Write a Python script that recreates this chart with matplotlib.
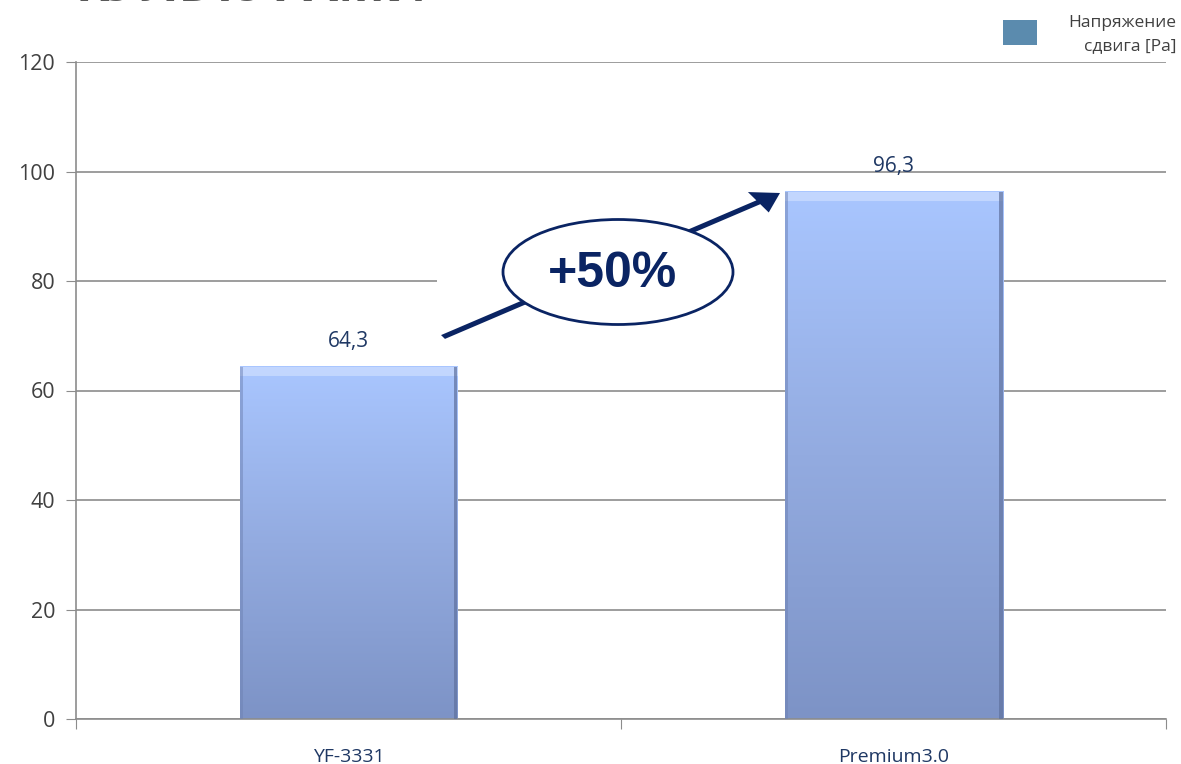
import matplotlib.pyplot as plt
import numpy as np
from matplotlib.colors import LinearSegmentedColormap
from matplotlib.patches import Ellipse, FancyArrow, Rectangle

categories = ["YF-3331", "Premium3.0"]
values = [64.3, 96.3]
value_labels = ["64,3", "96,3"]
legend_label = "Напряжение\nсдвига [Pa]"
title_text = "КУЛЬТУРАМИ"
gain_text = "+50%"

W, H = 1181, 764
fig = plt.figure(figsize=(W / 100, H / 100), dpi=100)
plt.rcParams["font.family"] = ["Open Sans", "DejaVu Sans"]


def fx(px):
    return px / W


def fy(py):
    return 1 - py / H


# - Axes placed to match the reference plot area

ax = fig.add_axes([fx(76), fy(719), fx(1166) - fx(76), fy(62) - fy(719)])
ax.set_xlim(0, len(categories))
ax.set_ylim(0, 120)
ax.set_yticks(range(0, 121, 20))
ax.set_yticklabels([str(v) for v in range(0, 121, 20)], fontsize=15.5, color="#404040")
ax.yaxis.grid(True, color="#8c8c8c", linewidth=1.2)
ax.set_axisbelow(True)
for side in ["top", "right"]:
    ax.spines[side].set_visible(False)
ax.spines["left"].set_color("#8c8c8c")
ax.spines["bottom"].set_color("#8c8c8c")
ax.spines["left"].set_linewidth(1.2)
ax.spines["bottom"].set_linewidth(1.2)
ax.tick_params(axis="y", length=7, color="#8c8c8c", pad=8)

# category boundary ticks on x axis, labels at centres
ax.set_xticks(range(len(categories) + 1))
ax.set_xticklabels([])
ax.set_xticks([i + 0.5 for i in range(len(categories))], minor=True)
ax.set_xticklabels(categories, minor=True, fontsize=14, color="#1f3864")
ax.tick_params(axis="x", which="major", length=7, color="#8c8c8c")
ax.tick_params(axis="x", which="minor", length=0, pad=21)

# - White box behind the annotation (hides part of the grid)

ax.add_patch(Rectangle((fx(437), fy(340)), fx(785) - fx(437), fy(215) - fy(340),
                       transform=fig.transFigure, color="white", lw=0, zorder=1))

# - Bars with vertical gradient and bevel

cmap = LinearSegmentedColormap.from_list("bar", ["#7d93c6", "#93abe0", "#a9c6ff"])
grad = np.linspace(0, 1, 256).reshape(-1, 1)
bar_w = 0.4
for i, (v, lab) in enumerate(zip(values, value_labels)):
    x0 = i + 0.5 - bar_w / 2
    ax.imshow(grad, extent=[x0, x0 + bar_w, 0, v], origin="lower", cmap=cmap,
              aspect="auto", zorder=2)
    # bevel highlight at top and shaded sides
    ax.add_patch(Rectangle((x0, v - 1.6), bar_w, 1.6, color="#e2ecff", lw=0, alpha=0.45, zorder=3))
    ax.add_patch(Rectangle((x0, 0), 0.006, v, color="#6e82b3", lw=0, alpha=0.5, zorder=3))
    ax.add_patch(Rectangle((x0 + bar_w - 0.006, 0), 0.006, v, color="#5f719e", lw=0, alpha=0.7, zorder=3))
    ax.text(i + 0.5, v + 4.7, lab, ha="center", va="center", fontsize=15, color="#1f3864")

ax.set_xlim(0, len(categories))
ax.set_ylim(0, 120)

# - Annotation: arrow and ellipse with "+50%"

fig.patches.append(FancyArrow(fx(443), fy(337), fx(780) - fx(443), fy(193) - fy(337),
                              width=0.006, head_width=0.032, head_length=0.022,
                              length_includes_head=True, transform=fig.transFigure,
                              color="#0a2463", lw=0, zorder=6))
fig.patches.append(Ellipse((fx(618), fy(272)), fx(230), fy(0) - fy(105),
                           transform=fig.transFigure, facecolor="white",
                           edgecolor="#0a2463", lw=2, zorder=7))
fig.text(fx(613), fy(274), gain_text, ha="center", va="center", fontsize=36,
         fontweight="bold", family="Liberation Sans", color="#0a2463", zorder=8)

# - Legend

fig.patches.append(Rectangle((fx(1003), fy(45)), fx(34), fy(0) - fy(25),
                             transform=fig.transFigure, color="#5b8bae", lw=0))
fig.text(fx(1176), fy(35), legend_label, ha="right", va="center", fontsize=12.5,
         color="#404040", linespacing=1.6)

# - Cropped title at the top

fig.text(fx(75), fy(1), title_text, ha="left", va="baseline", fontsize=36,
         fontweight="bold", color="#595959")

fig.savefig("out.png", dpi=100)
